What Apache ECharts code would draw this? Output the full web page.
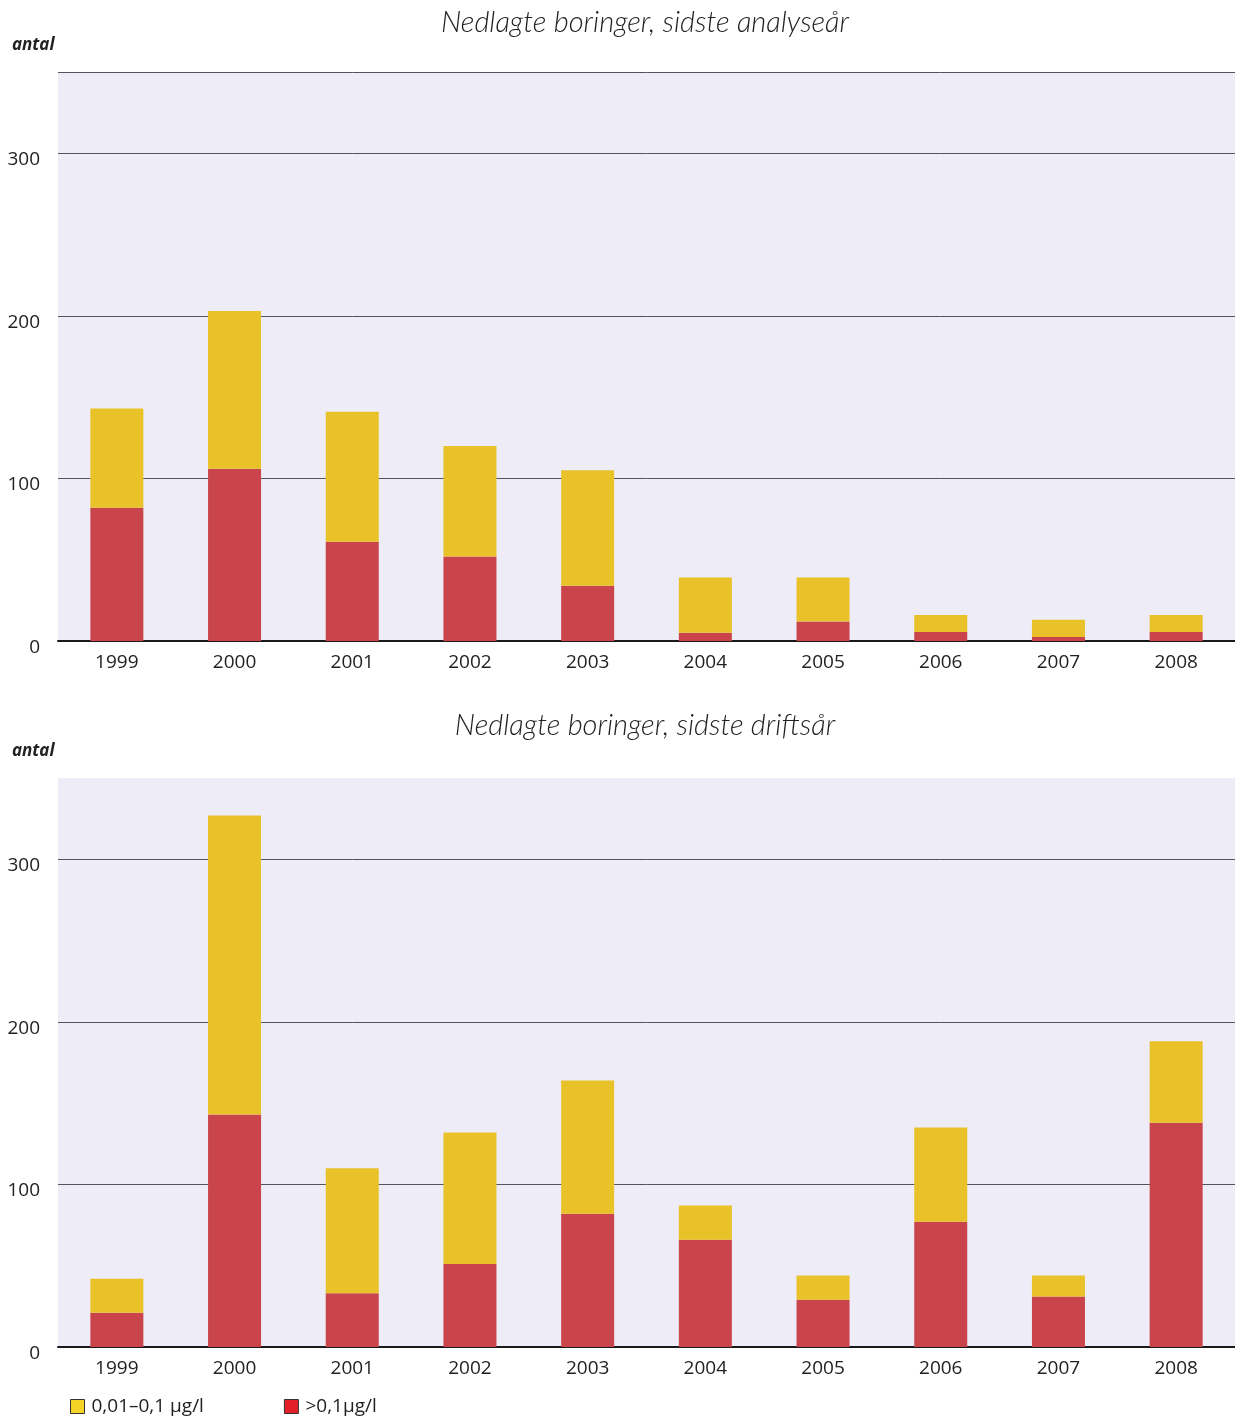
<!DOCTYPE html>
<html><head><meta charset="utf-8">
<script src="https://cdn.jsdelivr.net/npm/echarts@6/dist/echarts.min.js"></script>
<style>html,body{margin:0;padding:0;background:#fff}#c{width:1235px;height:1418px}</style>
</head><body><div id="c"></div>
<script>
const years = ['1999','2000','2001','2002','2003','2004','2005','2006','2007','2008'];
const yTicks = [0, 100, 200, 300];
// Chart 1: Nedlagte boringer, sidste analyseår
const analyseRed = [82, 106, 61, 52, 34, 5, 12, 5.5, 2.5, 5.5];
const analyseYellow = [61, 97, 80, 68, 71, 34, 27, 10.5, 10.5, 10.5];
// Chart 2: Nedlagte boringer, sidste driftsår
const driftRed = [21, 143, 33, 51, 82, 66, 29, 77, 31, 138];
const driftYellow = [21, 184, 77, 81, 82, 21, 15, 58, 13, 50];

const titles = ['Nedlagte boringer, sidste analyseår', 'Nedlagte boringer, sidste driftsår'];
const legendNames = ['0,01–0,1 µg/l', '>0,1µg/l'];

const RED = '#c9454b', YEL = '#e8c228', BG = '#eeecf6';
const font = '"Open Sans", "Noto Sans", sans-serif';
const grids = [{top: 72, bottom: 777}, {top: 778, bottom: 71}];

const chart = echarts.init(document.getElementById('c'), null, {renderer: 'canvas'});
const option = {
  animation: false,
  backgroundColor: '#fff',
  title: titles.map((t, i) => ({
    text: t, left: 640, textAlign: 'center', top: i === 0 ? 3 : 706,
    textStyle: {fontFamily: 'Lato, "Open Sans", sans-serif', fontStyle: 'italic', fontWeight: 300, fontSize: 29, color: '#222'}
  })),
  graphic: [0, 1].map(i => ({
    type: 'text', left: 12, top: i === 0 ? 37 : 743,
    style: {text: 'antal', font: 'italic bold 17px ' + font, fill: '#222'}
  })),
  legend: {
    bottom: -3, left: 65, itemWidth: 14, itemHeight: 14, itemGap: 80,
    icon: 'rect',
    textStyle: {fontFamily: font, fontSize: 19, color: '#222', padding: [0, 0, 0, 2]},
    data: [
      {name: legendNames[0], itemStyle: {color: '#f5d327', borderColor: '#333', borderWidth: 1}},
      {name: legendNames[1], itemStyle: {color: '#e32029', borderColor: '#333', borderWidth: 1}}
    ]
  },
  grid: grids.map(g => ({left: 58, right: 0, top: g.top, bottom: g.bottom, show: true, backgroundColor: BG, borderWidth: 0})),
  xAxis: [0, 1].map(i => ({
    type: 'category', gridIndex: i, data: years,
    axisLine: {show: true, lineStyle: {color: '#1a1a1a', width: 2}},
    axisTick: {show: false},
    axisLabel: {fontFamily: font, fontSize: 19, color: '#222', margin: 12}
  })),
  yAxis: [0, 1].map(i => ({
    type: 'value', gridIndex: i, min: 0, max: 350, interval: 100,
    axisLine: {show: false}, axisTick: {show: false},
    axisLabel: {fontFamily: font, fontSize: 19, color: '#222', margin: 18, verticalAlign: 'top', padding: [-3, 0, 0, 0],
      formatter: v => (yTicks.indexOf(v) >= 0 ? String(v) : '')},
    splitLine: {show: true, showMaxLine: i === 0,
      lineStyle: {color: '#555', width: 1}}
  })),
  series: [
    {name: legendNames[1], type: 'bar', stack: 'a', xAxisIndex: 0, yAxisIndex: 0, data: analyseRed, barWidth: 53, itemStyle: {color: RED}},
    {name: legendNames[0], type: 'bar', stack: 'a', xAxisIndex: 0, yAxisIndex: 0, data: analyseYellow, barWidth: 53, itemStyle: {color: YEL}},
    {name: legendNames[1], type: 'bar', stack: 'b', xAxisIndex: 1, yAxisIndex: 1, data: driftRed, barWidth: 53, itemStyle: {color: RED}},
    {name: legendNames[0], type: 'bar', stack: 'b', xAxisIndex: 1, yAxisIndex: 1, data: driftYellow, barWidth: 53, itemStyle: {color: YEL}}
  ]
};
chart.setOption(option);
</script></body></html>
